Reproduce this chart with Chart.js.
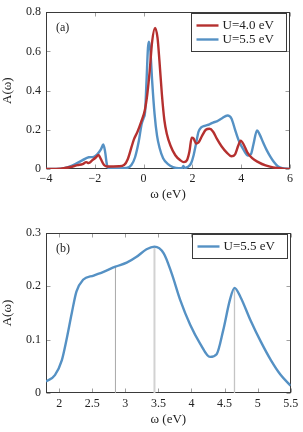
<!DOCTYPE html>
<html>
<head>
<meta charset="utf-8">
<script src="https://cdn.jsdelivr.net/npm/chart.js@4.4.1/dist/chart.umd.min.js"></script>
<style>
  html, body { margin: 0; padding: 0; background: #fff; }
  canvas { position: absolute; left: 0; }
  #topChart { top: 0; }
  #bottomChart { top: 208px; }
</style>
</head>
<body>
<canvas id="topChart" width="303" height="208"></canvas>
<canvas id="bottomChart" width="303" height="224"></canvas>
<script>
// panel (a): U = 4.0 eV
const omegaU40 = [-4, -3.4, -3.0, -2.7, -2.5, -2.35, -2.25, -2.1, -1.95, -1.85, -1.75, -1.62, -1.5, -1.0,
  -0.8, -0.65, -0.5, -0.4, -0.25, -0.1, 0.05, 0.15, 0.25, 0.35, 0.47, 0.57, 0.65, 0.75, 0.85, 0.95,
  1.1, 1.3, 1.5, 1.65, 1.78, 1.88, 1.97, 2.05, 2.15, 2.25, 2.4, 2.55, 2.7, 2.85, 3.0, 3.2, 3.4, 3.6,
  3.75, 3.88, 3.98, 4.1, 4.25, 4.45, 4.7, 5.0, 5.3, 5.7, 6];
const spectrumU40 = [0, 0.002, 0.01, 0.02, 0.025, 0.035, 0.03, 0.045, 0.06, 0.072, 0.05, 0.02, 0.013, 0.014,
  0.02, 0.05, 0.11, 0.15, 0.19, 0.24, 0.3, 0.38, 0.5, 0.65, 0.72, 0.67, 0.55, 0.38, 0.25, 0.18,
  0.12, 0.07, 0.045, 0.035, 0.045, 0.09, 0.16, 0.155, 0.13, 0.135, 0.17, 0.2, 0.205, 0.19, 0.155, 0.115, 0.085, 0.065,
  0.075, 0.12, 0.145, 0.125, 0.085, 0.055, 0.035, 0.018, 0.008, 0.002, 0];

// panel (a): U = 5.5 eV
const omegaU55 = [-4, -3.4, -3.1, -2.8, -2.5, -2.25, -2.05, -1.9, -1.75, -1.65, -1.58, -1.5, -1.4, -1.0,
  -0.7, -0.5, -0.35, -0.2, -0.08, 0.0, 0.06, 0.12, 0.18, 0.22, 0.28, 0.35, 0.45, 0.55, 0.65, 0.8,
  1.0, 1.2, 1.45, 1.58, 1.63, 1.68, 1.8, 1.95, 2.05, 2.15, 2.25, 2.36, 2.5, 2.7, 2.85, 3.0, 3.2,
  3.44, 3.6, 3.75, 3.9, 4.1, 4.28, 4.4, 4.5, 4.65, 4.75, 4.9, 5.05, 5.2, 5.35, 5.5, 5.7, 6];
const spectrumU55 = [0, 0.001, 0.01, 0.025, 0.045, 0.06, 0.062, 0.075, 0.1, 0.125, 0.09, 0.02, 0.004, 0.003,
  0.005, 0.02, 0.06, 0.14, 0.23, 0.26, 0.29, 0.45, 0.62, 0.65, 0.6, 0.45, 0.28, 0.17, 0.11, 0.055,
  0.025, 0.01, 0.004, 0.005, 0.016, 0.005, 0.01, 0.03, 0.07, 0.13, 0.19, 0.212, 0.22, 0.228, 0.237, 0.243, 0.258,
  0.273, 0.258, 0.2, 0.145, 0.097, 0.068, 0.076, 0.125, 0.197, 0.178, 0.135, 0.095, 0.062, 0.034, 0.014, 0.004, 0];

// panel (b): zoom of U = 5.5 eV
const omegaZoom = [1.8, 1.935, 2.04, 2.11, 2.19, 2.26, 2.36, 2.52, 2.67, 2.85, 3.02, 3.17, 3.32, 3.44,
  3.58, 3.7, 3.83, 3.98, 4.13, 4.28, 4.38, 4.48, 4.58, 4.65, 4.74, 4.89, 5.05, 5.2, 5.35, 5.5];
const spectrumZoom = [0.022, 0.034, 0.062, 0.1, 0.15, 0.19, 0.212, 0.22, 0.227, 0.2366, 0.244, 0.255, 0.269, 0.274,
  0.2615, 0.224, 0.174, 0.128, 0.093, 0.068, 0.073, 0.118, 0.174, 0.197, 0.18, 0.137, 0.096, 0.062, 0.034, 0.014];

const peakOmega = [2.85, 3.44, 4.65];
const peakHeight = [0.2366, 0.274, 0.197];
const peakColors = ["#a8a8a8", "#d2d2d2", "#c4c4c4"];
const peakWidths = [1, 2, 1.3];

const seriesLabels = ["U=4.0 eV", "U=5.5 eV"];
const xTicksA = [-4, -2, 0, 2, 4, 6];
const yTicksA = [0, 0.2, 0.4, 0.6, 0.8];
const xTicksB = [2, 2.5, 3, 3.5, 4, 4.5, 5, 5.5];
const yTicksB = [0, 0.1, 0.2, 0.3];

const RED = "#b5302f";
const BLUE = "#5591c4";
const SERIF = '"Liberation Serif", "Times New Roman", serif';

Chart.defaults.font.family = SERIF;
Chart.defaults.font.size = 12;
Chart.defaults.color = "#222";

function toPoints(xs, ys) {
  return xs.map((x, i) => ({ x, y: ys[i] }));
}

function formatTick(value) {
  const v = Number(Number(value).toFixed(2));
  return v < 0 ? "\u2212" + Math.abs(v) : String(v);
}

function makeScales(opts) {
  return {
    x: {
      type: "linear",
      min: opts.xMin,
      max: opts.xMax,
      afterBuildTicks: (scale) => { scale.ticks = opts.xTicks.map((v) => ({ value: v })); },
      afterFit: (scale) => { scale.height = opts.xHeight; },
      grid: { display: false, drawTicks: false },
      border: { display: false },
      ticks: { padding: 3, maxRotation: 0, autoSkip: false, callback: formatTick, color: "#222" },
      title: { display: true, text: "ω (eV)", font: { size: 13 }, padding: { top: 0, bottom: opts.titlePad }, color: "#222" },
    },
    y: {
      type: "linear",
      min: opts.yMin,
      max: opts.yMax,
      afterBuildTicks: (scale) => { scale.ticks = opts.yTicks.map((v) => ({ value: v })); },
      afterFit: (scale) => { scale.width = 46; },
      grid: { display: false, drawTicks: false },
      border: { display: false },
      ticks: { padding: 5, callback: formatTick, color: "#222" },
      title: { display: true, text: "A(ω)", font: { size: 13 }, padding: { top: 0, bottom: 2 }, color: "#222" },
    },
  };
}

// frame box with inward tick marks on all four sides (pgfplots look)
const axisFrame = {
  id: "axisFrame",
  beforeDatasetsDraw(chart) {
    const { ctx, chartArea: a, scales } = chart;
    const left = Math.round(a.left) + 0.5;
    const right = Math.round(a.right) - 0.5;
    const top = Math.round(a.top) + 0.5;
    const bottom = Math.round(a.bottom) - 0.5;
    ctx.save();
    ctx.strokeStyle = "#a0a0a0";
    ctx.lineWidth = 1;
    ctx.beginPath();
    scales.x.ticks.forEach((t) => {
      const px = Math.round(scales.x.getPixelForValue(t.value)) + 0.5;
      ctx.moveTo(px, bottom); ctx.lineTo(px, bottom - 4);
      ctx.moveTo(px, top); ctx.lineTo(px, top + 4);
    });
    scales.y.ticks.forEach((t) => {
      const py = Math.round(scales.y.getPixelForValue(t.value)) + 0.5;
      ctx.moveTo(left, py); ctx.lineTo(left + 4, py);
      ctx.moveTo(right, py); ctx.lineTo(right - 4, py);
    });
    ctx.stroke();
    ctx.strokeStyle = "#3a3a3a";
    ctx.strokeRect(left, top, right - left, bottom - top);
    ctx.restore();
  },
};

// boxed legend in the top-right corner plus the panel tag
const cornerLegend = {
  id: "cornerLegend",
  afterDraw(chart, args, opts) {
    const { ctx, chartArea: a } = chart;
    const entries = chart.data.datasets.filter((d) => d.inLegend);
    const boxW = 95;
    const rowH = 14;
    const boxH = entries.length * rowH + 10;
    const bx = Math.round(a.right - 4 - boxW) + 0.5;
    const by = Math.round(a.top + 1) + 0.5;
    ctx.save();
    ctx.fillStyle = "#fff";
    ctx.fillRect(bx, by, boxW, boxH);
    ctx.strokeStyle = "#3a3a3a";
    ctx.lineWidth = 1;
    ctx.strokeRect(bx, by, boxW, boxH);
    ctx.font = "13px " + SERIF;
    ctx.textBaseline = "middle";
    entries.forEach((d, i) => {
      const cy = by + 12 + i * rowH;
      ctx.strokeStyle = d.borderColor;
      ctx.lineWidth = 2.4;
      ctx.beginPath();
      ctx.moveTo(bx + 5, cy);
      ctx.lineTo(bx + 27, cy);
      ctx.stroke();
      ctx.fillStyle = "#222";
      ctx.fillText(d.label, bx + 31, cy + 0.5);
    });
    ctx.font = "12px " + SERIF;
    ctx.fillStyle = "#222";
    ctx.fillText(opts.tag, a.left + 10, a.top + 16);
    ctx.restore();
  },
};

function lineSet(label, xs, ys, color) {
  return {
    label,
    data: toPoints(xs, ys),
    borderColor: color,
    borderWidth: 2.4,
    pointRadius: 0,
    tension: 0.4,
    cubicInterpolationMode: "monotone",
    inLegend: true,
  };
}

new Chart(document.getElementById("topChart"), {
  type: "line",
  data: {
    datasets: [
      lineSet(seriesLabels[0], omegaU40, spectrumU40, RED),
      lineSet(seriesLabels[1], omegaU55, spectrumU55, BLUE),
    ],
  },
  options: {
    responsive: false,
    animation: false,
    layout: { padding: { left: 0, right: 13, top: 9, bottom: 0 } },
    plugins: { legend: { display: false }, tooltip: { enabled: false }, cornerLegend: { tag: "(a)" } },
    scales: makeScales({
      xMin: -4, xMax: 6, xTicks: xTicksA,
      yMin: 0, yMax: 0.8, yTicks: yTicksA,
      xHeight: 39, titlePad: 6,
    }),
  },
  plugins: [axisFrame, cornerLegend],
});

const peakSets = peakOmega.map((x, i) => ({
  label: "peak " + x,
  data: [{ x, y: 0 }, { x, y: peakHeight[i] }],
  borderColor: peakColors[i],
  borderWidth: peakWidths[i],
  pointRadius: 0,
  inLegend: false,
}));

new Chart(document.getElementById("bottomChart"), {
  type: "line",
  data: {
    datasets: [lineSet(seriesLabels[1], omegaZoom, spectrumZoom, BLUE), ...peakSets],
  },
  options: {
    responsive: false,
    animation: false,
    layout: { padding: { left: 0, right: 12.3, top: 24.7, bottom: 0 } },
    plugins: { legend: { display: false }, tooltip: { enabled: false }, cornerLegend: { tag: "(b)" } },
    scales: makeScales({
      xMin: 1.8, xMax: 5.5, xTicks: xTicksB,
      yMin: 0, yMax: 0.3, yTicks: yTicksB,
      xHeight: 38.7, titlePad: 4.8,
    }),
  },
  plugins: [axisFrame, cornerLegend],
});
</script>
</body>
</html>
